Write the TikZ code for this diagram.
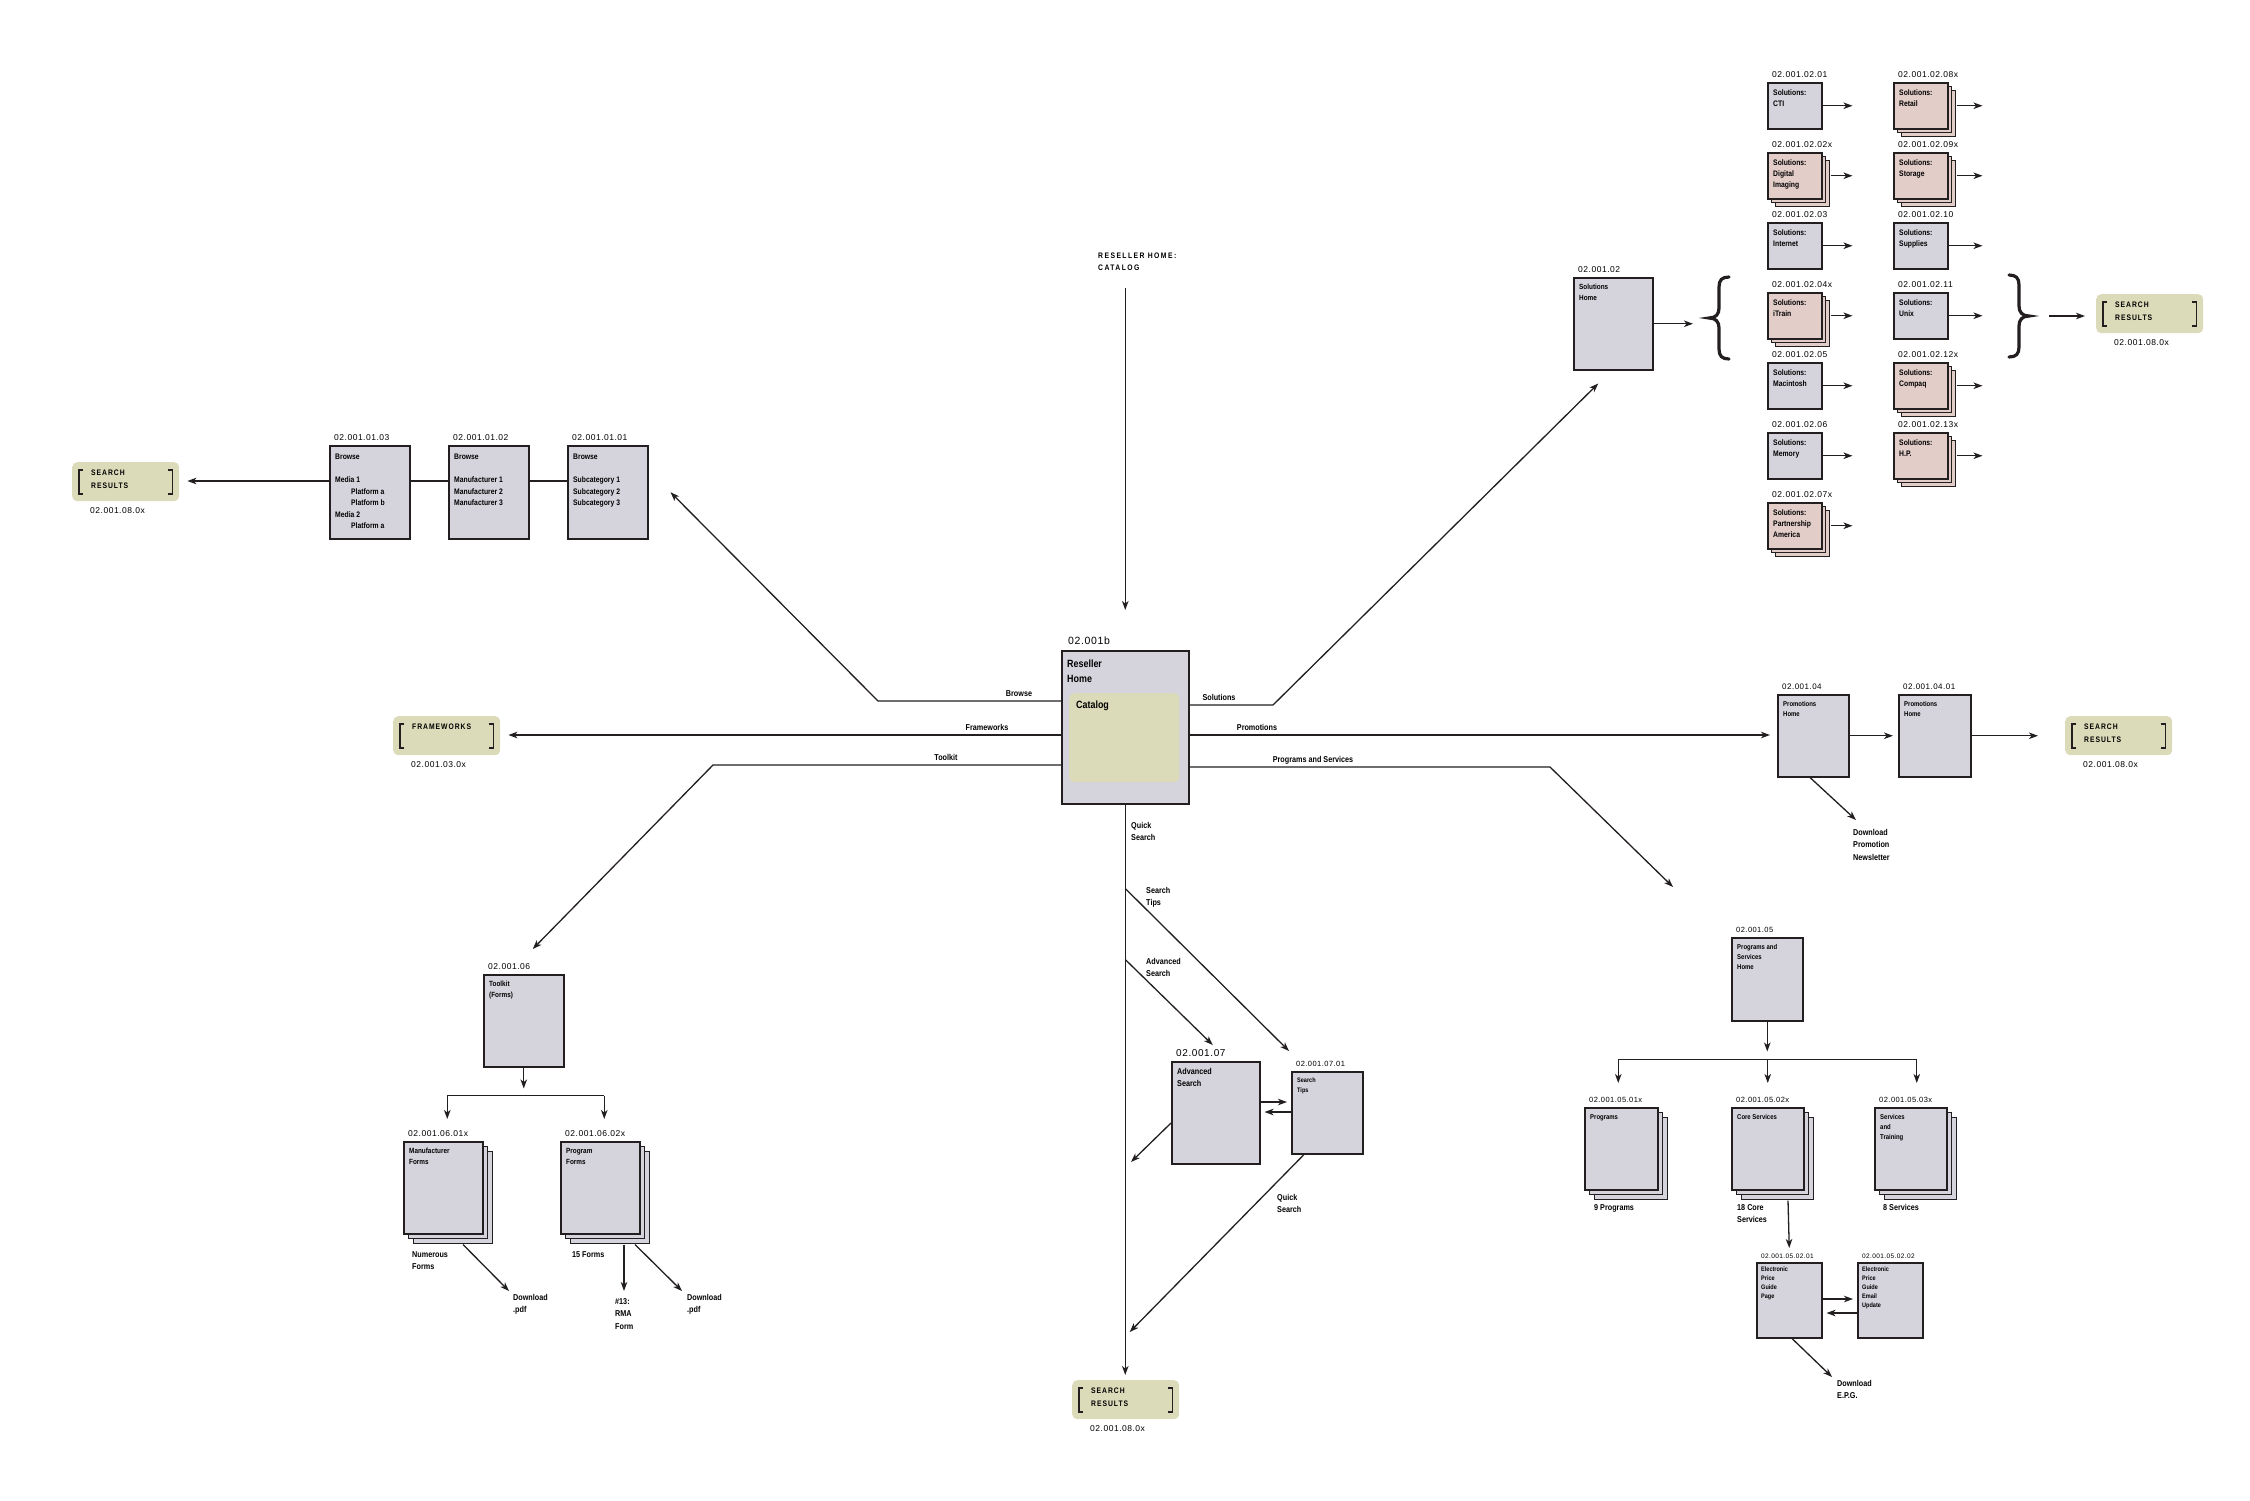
\documentclass[tikz,border=0pt]{standalone}
\usepackage{fontspec}
\setmainfont{Liberation Sans}
\newfontfamily\cnd[FakeStretch=0.85]{Liberation Sans}
\newfontfamily\idf[LetterSpace=6]{Liberation Sans}
\newfontfamily\capf[FakeStretch=0.85,LetterSpace=12]{Liberation Sans}
\newfontfamily\capw[FakeStretch=0.85,LetterSpace=18]{Liberation Sans}
\usepackage{tikz}
\usetikzlibrary{arrows.meta,positioning,calc,shadows}
\definecolor{ink}{HTML}{231F20}
\definecolor{pgray}{HTML}{D5D4DD}
\definecolor{ppink}{HTML}{E2CDC9}
\definecolor{khaki}{HTML}{DCDBB9}
\newcommand{\fb}[2]{\cnd\bfseries\fontsize{#1}{#2}\selectfont}
\newcommand{\fnum}[1]{\idf\fontsize{#1}{#1}\selectfont}
% square brackets inside a results tag
\newcommand{\brk}[1]{\draw[ink,line width=1.6pt]
  ($(#1.north west)+(11,8)$) -- ++(-4,0) -- ++(0,24) -- ++(4,0)
  ($(#1.north east)+(-11,8)$) -- ++(4,0) -- ++(0,24) -- ++(-4,0);}
% big curly brace, #2 = 1 (left) or -1 (right)
\newcommand{\brc}[2]{\draw[ink,line width=3.2pt,line cap=round,shift={#1},xscale=#2]
  (10,-41) .. controls (3,-41) and (0,-38) .. (0,-31) -- (0,-10)
  .. controls (0,-4) and (-3,0) .. (-10,0)
  .. controls (-3,0) and (0,4) .. (0,10) -- (0,31)
  .. controls (0,38) and (3,41) .. (10,41);}

\begin{document}
\begin{tikzpicture}[x=1pt,y=-1pt,
  pg/.style={draw=ink,line width=1.5pt,fill=pgray,anchor=north west,inner sep=0pt},
  pk/.style={pg,fill=ppink,
    copy shadow={shadow xshift=8pt,shadow yshift=-8pt,fill=ppink,draw=ink,line width=1.3pt},
    copy shadow={shadow xshift=4pt,shadow yshift=-4pt,fill=ppink,draw=ink,line width=1.3pt}},
  stk/.style={pg,
    copy shadow={shadow xshift=10pt,shadow yshift=-10pt,fill=pgray,draw=ink,line width=1.3pt},
    copy shadow={shadow xshift=5pt,shadow yshift=-5pt,fill=pgray,draw=ink,line width=1.3pt}},
  sol/.style={minimum width=54pt,minimum height=46pt},
  res/.style={fill=khaki,rounded corners=5pt,anchor=north west,inner sep=0pt,
              minimum width=107pt,minimum height=39pt},
  ttl/.style={anchor=south west,inner sep=0pt,xshift=5pt,yshift=4pt,font=\fnum{8.5}},
  intxt/.style={anchor=north west,inner sep=0pt,xshift=6pt,yshift=-7pt,align=left,font=\fb{8}{11}},
  rtx/.style={anchor=north west,inner sep=0pt,xshift=19pt,yshift=-8pt,align=left,
              font=\capf\bfseries\fontsize{8}{13}\selectfont},
  rid/.style={anchor=north west,inner sep=0pt,xshift=18pt,yshift=-6pt,font=\fnum{8.5}},
  lab/.style={inner sep=0pt,align=left,font=\fb{8.5}{12.5}},
  ar/.style={draw=ink,line width=1.3pt,-{Stealth[length=9pt,width=6.5pt,inset=2.5pt]}},
  ln/.style={draw=ink,line width=1.3pt}
]
\fill[white] (0,0) rectangle (2250,1500);
\useasboundingbox (0,0) rectangle (2250,1500);

% home page
\node[pg,minimum width=127pt,minimum height=153pt,
  label={[ttl,font=\fnum{10.5},xshift=2pt,yshift=1pt]north west:02.001b},
  label={[intxt,font=\fb{10.5}{15},yshift=-3pt]north west:{Reseller\\Home}}] (home) at (1061,650) {};
\node[fill=khaki,rounded corners=5pt,anchor=north west,inner sep=0pt,minimum width=110pt,minimum height=89pt,
  label={[intxt,font=\fb{10.5}{15},xshift=1pt,yshift=-1pt]north west:Catalog}] (cat) at ($(home.north west)+(8,43)$) {};
\coordinate (hwB) at ($(home.north west)+(0,51)$);
\coordinate (hwF) at ($(home.north west)+(0,85)$);
\coordinate (hwT) at ($(home.north west)+(0,115)$);
\coordinate (heS) at ($(home.north east)+(0,55)$);
\coordinate (heP) at ($(home.north east)+(0,85)$);
\coordinate (heG) at ($(home.north east)+(0,117)$);

\node[anchor=north west,inner sep=0pt,align=left,font=\capw\bfseries\fontsize{8}{12}\selectfont] (rh) at (1098,253) {RESELLER HOME:\\CATALOG};
\draw[ar,shorten <=17pt,shorten >=40pt] (rh.south -| home.north) -- (home.north);

% connector labels
\node[lab,anchor=base] (lBr) at (1019,696) {Browse};
\node[lab,anchor=base] (lFw) at (987,730) {Frameworks};
\node[lab,anchor=base] (lTk) at (946,760) {Toolkit};
\node[lab,anchor=base] (lSo) at (1219,700) {Solutions};
\node[lab,anchor=base] (lPr) at (1257,730) {Promotions};
\node[lab,anchor=base] (lPs) at (1313,762) {Programs and Services};

% browse
\node[pg,minimum width=80pt,minimum height=93pt,label={[ttl]north west:02.001.01.01},
  label={[intxt,font=\fb{8}{11.5},yshift=-2pt]north west:{Browse\\[11.5pt]Subcategory 1\\Subcategory 2\\Subcategory 3}}] (b1) at (567,445) {};
\node[pg,minimum width=80pt,minimum height=93pt,label={[ttl]north west:02.001.01.02},
  label={[intxt,font=\fb{8}{11.5},yshift=-2pt]north west:{Browse\\[11.5pt]Manufacturer 1\\Manufacturer 2\\Manufacturer 3}}] (b2) at (448,445) {};
\node[pg,minimum width=80pt,minimum height=93pt,label={[ttl]north west:02.001.01.03},
  label={[intxt,font=\fb{8}{11.5},yshift=-2pt]north west:{Browse\\[11.5pt]Media 1\\\hspace*{16pt}Platform a\\\hspace*{16pt}Platform b\\Media 2\\\hspace*{16pt}Platform a}}] (b3) at (329,445) {};
\node[res,label={[rtx]north west:{SEARCH\\RESULTS}},label={[rid]south west:02.001.08.0x}] (sr1) at (72,462) {};
\brk{sr1}
\draw[ar] (hwB) -- (878,701) -- ($(b1.east)+(22,0)$);
\draw[ln] ($(b1.north west)+(0,36)$) -- ($(b2.north east)+(0,36)$);
\draw[ln] ($(b2.north west)+(0,36)$) -- ($(b3.north east)+(0,36)$);
\draw[ar,shorten >=8pt] ($(b3.north west)+(0,36)$) -- ($(sr1.north east)+(0,19)$);

% frameworks
\node[res,label={[rtx]north west:FRAMEWORKS},label={[rid]south west:02.001.03.0x}] (fw) at (393,716) {};
\brk{fw}
\draw[ar,shorten >=8pt] (hwF) -- (hwF -| fw.east);

% solutions
\node[pg,minimum width=79pt,minimum height=92pt,label={[ttl]north west:02.001.02},
  label={[intxt,font=\fb{7.5}{11}]north west:{Solutions\\Home}}] (sh) at (1573,277) {};
\draw[ar] (heS) -- (1273,705) -- ($(sh.south)+(-15,13)$);
\coordinate (lb) at (1708,318);
\brc{(1719,318)}{1}
\draw[ar,shorten >=15pt] (sh.east) -- (sh.east -| lb);

\node[pg,sol,label={[ttl]north west:02.001.02.01},label={[intxt]north west:{Solutions:\\CTI}}] (s01) at (1767,82) {};
\node[pk,sol,label={[ttl]north west:02.001.02.02x},label={[intxt]north west:{Solutions:\\Digital\\Imaging}}] (s02) at (1767,152) {};
\node[pg,sol,label={[ttl]north west:02.001.02.03},label={[intxt]north west:{Solutions:\\Internet}}] (s03) at (1767,222) {};
\node[pk,sol,label={[ttl]north west:02.001.02.04x},label={[intxt]north west:{Solutions:\\iTrain}}] (s04) at (1767,292) {};
\node[pg,sol,label={[ttl]north west:02.001.02.05},label={[intxt]north west:{Solutions:\\Macintosh}}] (s05) at (1767,362) {};
\node[pg,sol,label={[ttl]north west:02.001.02.06},label={[intxt]north west:{Solutions:\\Memory}}] (s06) at (1767,432) {};
\node[pk,sol,label={[ttl]north west:02.001.02.07x},label={[intxt]north west:{Solutions:\\Partnership\\America}}] (s07) at (1767,502) {};
\node[pk,sol,label={[ttl]north west:02.001.02.08x},label={[intxt]north west:{Solutions:\\Retail}}] (s08) at (1893,82) {};
\node[pk,sol,label={[ttl]north west:02.001.02.09x},label={[intxt]north west:{Solutions:\\Storage}}] (s09) at (1893,152) {};
\node[pg,sol,label={[ttl]north west:02.001.02.10},label={[intxt]north west:{Solutions:\\Supplies}}] (s10) at (1893,222) {};
\node[pg,sol,label={[ttl]north west:02.001.02.11},label={[intxt]north west:{Solutions:\\Unix}}] (s11) at (1893,292) {};
\node[pk,sol,label={[ttl]north west:02.001.02.12x},label={[intxt]north west:{Solutions:\\Compaq}}] (s12) at (1893,362) {};
\node[pk,sol,label={[ttl]north west:02.001.02.13x},label={[intxt]north west:{Solutions:\\H.P.}}] (s13) at (1893,432) {};
\draw[ar] (s01.east) -- ++(30,0);
\draw[ar] ([xshift=8pt]s02.east) -- ++(22,0);
\draw[ar] (s03.east) -- ++(30,0);
\draw[ar] ([xshift=8pt]s04.east) -- ++(22,0);
\draw[ar] (s05.east) -- ++(30,0);
\draw[ar] (s06.east) -- ++(30,0);
\draw[ar] ([xshift=8pt]s07.east) -- ++(22,0);
\draw[ar] ([xshift=8pt]s08.east) -- ++(26,0);
\draw[ar] ([xshift=8pt]s09.east) -- ++(26,0);
\draw[ar] (s10.east) -- ++(34,0);
\draw[ar] (s11.east) -- ++(34,0);
\draw[ar] ([xshift=8pt]s12.east) -- ++(26,0);
\draw[ar] ([xshift=8pt]s13.east) -- ++(26,0);

\brc{(2019,316)}{-1}
\coordinate (rb) at (2030,316);
\node[res,label={[rtx]north west:{SEARCH\\RESULTS}},label={[rid]south west:02.001.08.0x}] (sr4) at (2096,294) {};
\brk{sr4}
\draw[ar,shorten <=19pt,shorten >=11pt] (rb) -- (rb -| sr4.west);

% promotions
\node[pg,minimum width=71pt,minimum height=82pt,label={[ttl,font=\fnum{8}]north west:02.001.04},
  label={[intxt,font=\fb{7}{10}]north west:{Promotions\\Home}}] (pr) at (1777,694) {};
\node[pg,minimum width=72pt,minimum height=82pt,label={[ttl,font=\fnum{8}]north west:02.001.04.01},
  label={[intxt,font=\fb{7}{10}]north west:{Promotions\\Home}}] (pr2) at (1898,694) {};
\node[res,label={[rtx]north west:{SEARCH\\RESULTS}},label={[rid]south west:02.001.08.0x}] (sr5) at (2065,716) {};
\brk{sr5}
\node[lab,anchor=north west] (ldp) at (1853,829) {Download\\Promotion\\Newsletter};
\draw[ar,shorten >=7pt] (heP) -- (heP -| pr.west);
\draw[ar,shorten >=5pt] (pr.east) -- (pr2.west);
\draw[ar,shorten >=27pt] (pr2.east) -- (pr2.east -| sr5.west);
\draw[ar] ($(pr.south west)+(33,0)$) -- ($(ldp.north west)+(3,-9)$);

% programs and services
\node[pg,minimum width=71pt,minimum height=83pt,label={[ttl,font=\fnum{7.5}]north west:02.001.05},
  label={[intxt,font=\fb{7}{10}]north west:{Programs and\\Services\\Home}}] (ps) at (1731,937) {};
\draw[ar] (heG) -- (1550,767) -- ($(ps.north west)+(-58,-50)$);
\node[stk,minimum width=73pt,minimum height=82pt,label={[ttl,font=\fnum{7.5}]north west:02.001.05.01x},
  label={[intxt,font=\fb{7}{10}]north west:Programs}] (pg1) at (1584,1107) {};
\node[stk,minimum width=72pt,minimum height=82pt,label={[ttl,font=\fnum{7.5}]north west:02.001.05.02x},
  label={[intxt,font=\fb{7}{10}]north west:Core Services}] (pg2) at (1731,1107) {};
\node[stk,minimum width=72pt,minimum height=82pt,label={[ttl,font=\fnum{7.5}]north west:02.001.05.03x},
  label={[intxt,font=\fb{7}{10}]north west:{Services\\and\\Training}}] (pg3) at (1874,1107) {};
\draw[ar] (ps.south) -- ++(0,30);
\coordinate (psb) at ($(ps.south)+(0,38)$);
\coordinate (pa1) at ($(pg1.north)+(-3,-24)$);
\coordinate (pa2) at ($(pg2.north)+(0,-24)$);
\coordinate (pa3) at ($(pg3.north)+(6,-24)$);
\draw[ln] (pa1 |- psb) -- (pa3 |- psb);
\draw[ar] (pa1 |- psb) -- (pa1);
\draw[ar] (pa2 |- psb) -- (pa2);
\draw[ar] (pa3 |- psb) -- (pa3);
\node[lab,anchor=north west] (lp1) at (1594,1204) {9 Programs};
\node[lab,anchor=north west] (lp2) at (1737,1204) {18 Core\\Services};
\node[lab,anchor=north west] (lp3) at (1883,1204) {8 Services};

\node[pg,minimum width=65pt,minimum height=75pt,label={[ttl,font=\fnum{6.5},yshift=-1pt]north west:02.001.05.02.01},
  label={[intxt,font=\fb{6.5}{9},xshift=-1pt,yshift=2pt]north west:{Electronic\\Price\\Guide\\Page}}] (e1) at (1756,1262) {};
\node[pg,minimum width=65pt,minimum height=75pt,label={[ttl,font=\fnum{6.5},yshift=-1pt]north west:02.001.05.02.02},
  label={[intxt,font=\fb{6.5}{9},xshift=-1pt,yshift=2pt]north west:{Electronic\\Price\\Guide\\Email\\Update}}] (e2) at (1857,1262) {};
\node[lab,anchor=north west] (lde) at (1837,1380) {Download\\E.P.G.};
\draw[ar] ($(pg2.south west)+(57,10)$) -- ($(e1.north)+(0,-14)$);
\draw[ar,shorten >=4pt] ($(e1.north east)+(0,37)$) -- ($(e2.north west)+(0,37)$);
\draw[ar,shorten >=4pt] ($(e2.north west)+(0,51)$) -- ($(e1.north east)+(0,51)$);
\draw[ar] ($(e1.south west)+(36,0)$) -- ($(lde.north west)+(-5,-3)$);

% toolkit
\node[pg,minimum width=80pt,minimum height=92pt,label={[ttl]north west:02.001.06},
  label={[intxt,font=\fb{7.5}{11}]north west:{Toolkit\\(Forms)}}] (tk) at (483,974) {};
\draw[ar] (hwT) -- (713,765) -- ($(tk.north)+(9,-25)$);
\node[stk,minimum width=79pt,minimum height=92pt,label={[ttl]north west:02.001.06.01x},
  label={[intxt,font=\fb{7.5}{11}]north west:{Manufacturer\\Forms}}] (mf) at (403,1141) {};
\node[stk,minimum width=79pt,minimum height=92pt,label={[ttl]north west:02.001.06.02x},
  label={[intxt,font=\fb{7.5}{11}]north west:{Program\\Forms}}] (pf) at (560,1141) {};
\draw[ar] (tk.south) -- ++(0,21);
\coordinate (tkb) at ($(tk.south)+(0,28)$);
\coordinate (ta1) at ($(mf.north)+(4,-22)$);
\coordinate (ta2) at ($(pf.north)+(4,-22)$);
\draw[ln] (ta1 |- tkb) -- (ta2 |- tkb);
\draw[ar] (ta1 |- tkb) -- (ta1);
\draw[ar] (ta2 |- tkb) -- (ta2);
\node[lab,anchor=north west] (lnf) at (412,1251) {Numerous\\Forms};
\node[lab,anchor=north west] (l15) at (572,1251) {15 Forms};
\node[lab,anchor=north west] (ld1) at (513,1294) {Download\\.pdf};
\node[lab,anchor=north west] (lrma) at (615,1298) {\#13:\\RMA\\Form};
\node[lab,anchor=north west] (ld2) at (687,1294) {Download\\.pdf};
\draw[ar] ($(mf.south west)+(60,10)$) -- ($(ld1.north west)+(-4,-3)$);
\draw[ar] ($(pf.south west)+(64,10)$) -- ($(lrma.north west)+(9,-7)$);
\draw[ar] ($(pf.south west)+(75,10)$) -- ($(ld2.north west)+(-5,-3)$);

% search
\node[pg,minimum width=88pt,minimum height=102pt,label={[ttl,font=\fnum{10}]north west:02.001.07},
  label={[intxt,font=\fb{8.5}{12.5}]north west:{Advanced\\Search}}] (adv) at (1171,1061) {};
\node[pg,minimum width=71pt,minimum height=82pt,label={[ttl,font=\fnum{7.5}]north west:02.001.07.01},
  label={[intxt,font=\fb{6.5}{9.5}]north west:{Search\\Tips}}] (st) at (1291,1071) {};
\node[res,label={[rtx]north west:{SEARCH\\RESULTS}},label={[rid]south west:02.001.08.0x}] (sr3) at (1072,1380) {};
\brk{sr3}
\node[lab,anchor=north west] (lq1) at (1131,822) {Quick\\Search};
\node[lab,anchor=north west] (lst) at (1146,887) {Search\\Tips};
\node[lab,anchor=north west] (lad) at (1146,958) {Advanced\\Search};
\node[lab,anchor=north west] (lq2) at (1277,1194) {Quick\\Search};
\draw[ar,shorten >=5pt] (home.south) -- (home.south |- sr3.north);
\coordinate (qT) at ($(home.south)+(0,84)$);
\coordinate (qA) at ($(home.south)+(0,155)$);
\draw[ar] (qT) -- ($(st.north west)+(-2,-20)$);
\draw[ar] (qA) -- ($(adv.north)+(-3,-16)$);
\draw[ar,shorten >=4pt] ($(adv.north east)+(0,41)$) -- ($(st.north west)+(0,31)$);
\draw[ar,shorten >=4pt] ($(st.north west)+(0,41)$) -- ($(adv.north east)+(0,51)$);
\draw[ar] ($(adv.north west)+(0,62)$) -- ++(-40,39);
\draw[ar] ($(st.south west)+(13,0)$) -- ($(sr3.north)+(4,-48)$);
\end{tikzpicture}
\end{document}
